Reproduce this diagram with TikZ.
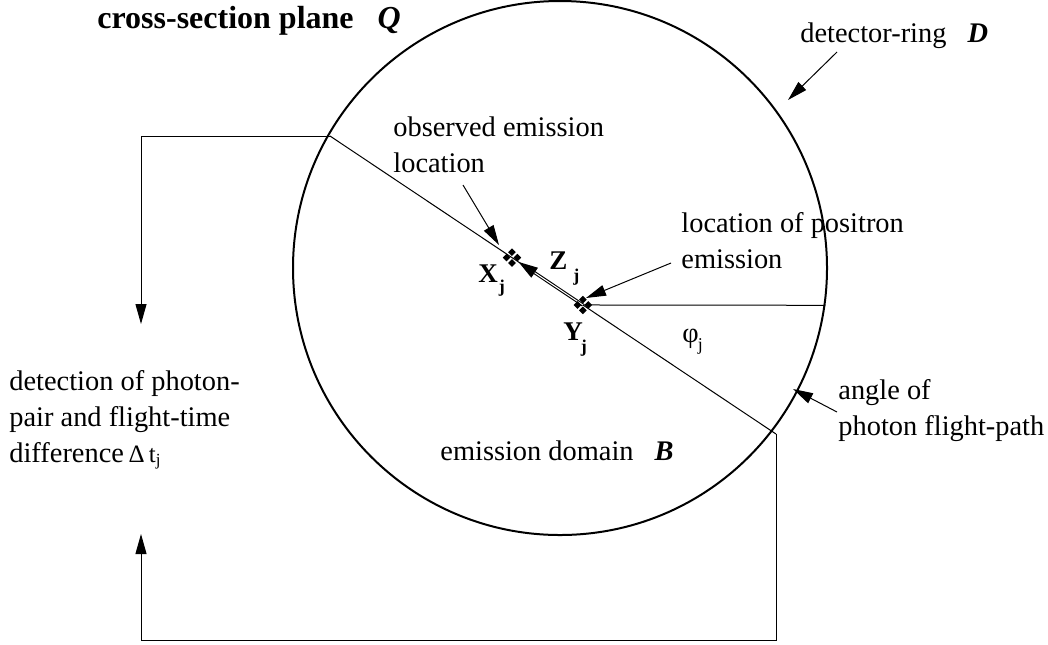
\documentclass[tikz,border=0pt]{standalone}
\usepackage{fontspec}
\setmainfont{Liberation Serif}
\usetikzlibrary{arrows.meta,calc}

\newcommand{\quadmark}[1]{%
  \foreach \ang in {0,90,180,270}
    \fill ($(#1)+(\ang:2.7pt)$) +(1.9pt,0) -- +(0,1.9pt) -- +(-1.9pt,0) -- +(0,-1.9pt) -- cycle;}

\begin{document}
\begin{tikzpicture}[
  x=0.5pt, y=-0.5pt,
  >={Triangle[length=10pt,width=5.5pt]},
  every node/.style={inner sep=0pt},
  txt/.style={font=\fontsize{14.2}{18}\selectfont, anchor=base west, align=left},
  sym/.style={font=\fontsize{13.5}{16}\selectfont\bfseries, anchor=base west},
  ring/.style={draw, circle, line width=1pt, minimum size=267pt},
  ray/.style={line width=0.5pt},
  pointer/.style={->, line width=0.5pt},
]
\useasboundingbox (0,0) rectangle (1048,644);

\node[ring] (ring) at (560,268) {};
\coordinate (A) at (330,136);
\coordinate (B) at (776,434);
\coordinate (X) at ($(A)!0.408!(B)$);
\coordinate (Y) at ($(A)!0.567!(B)$);
\coordinate (Ztip) at ($(A)!0.4215!(B)$);

\draw[ray] (A) -- (B);
\draw[ray] (Y) -- (ring.-8.2);
\draw[->, line width=1.6pt] (Y) -- (Ztip);
\draw[white, line width=0.5pt, shorten >=10pt] (Y) -- (Ztip);
\quadmark{X}
\quadmark{Y}

% detection loop
\coordinate (Lin) at (141,324);
\coordinate (Lout) at (141,534);
\coordinate (base) at (141,640);
\draw[pointer] (A) -| (Lin);
\draw[pointer] (B) |- (base) -- (Lout);

\node[font=\fontsize{16}{18}\selectfont\bfseries, anchor=base west] (title)
  at (97,28) {cross-section plane\hspace{12pt}\textit{Q}};
\node[txt] (ringlbl) at (800,42) {detector-ring\hspace{10.5pt}\textbf{\textit{D}}};
\node[txt] (obslbl) at (393,172) {observed emission\\location};
\node[txt] (poslbl) at (681,268) {location of positron\\emission};
\node[txt] (anglbl) at (838,435) {angle of\\photon flight-path};
\node[txt] (domlbl) at (440,460) {emission domain\hspace{10.5pt}\textbf{\textit{B}}};
\node[txt] (detlbl) at (9,462) {detection of photon-\\pair and flight-time\\difference\,{\fontsize{12.5}{12}\selectfont Δ\,t\raisebox{-1.5pt}{\fontsize{8.5}{8}\selectfont j}}};

\node[sym] (xlbl) at (478,282) {X\kern0.5pt\raisebox{-5pt}{\fontsize{9}{9}\selectfont j}};
\node[sym] (zlbl) at (549,269) {Z\kern3pt\raisebox{-6pt}{\fontsize{9}{9}\selectfont j}};
\node[sym] (ylbl) at (563,340) {Y\kern-1pt\raisebox{-6pt}{\fontsize{9}{9}\selectfont j}};
\node[txt] (philbl) at (682,342) {φ\kern-0.5pt\raisebox{-4pt}{\fontsize{9}{9}\selectfont j}};

% pointers
\coordinate (dettail) at (837,52);  \coordinate (dettip) at (788,100);
\coordinate (obstail) at (463,185); \coordinate (obstip) at (499,245);
\coordinate (postail) at (671,263); \coordinate (postip) at (586,298);
\coordinate (angtail) at (837,412); \coordinate (angtip) at (793,389);
\draw[pointer] (dettail) -- (dettip);
\draw[pointer] (obstail) -- (obstip);
\draw[pointer] (postail) -- (postip);
\draw[pointer] (angtail) -- (angtip);
\end{tikzpicture}
\end{document}
